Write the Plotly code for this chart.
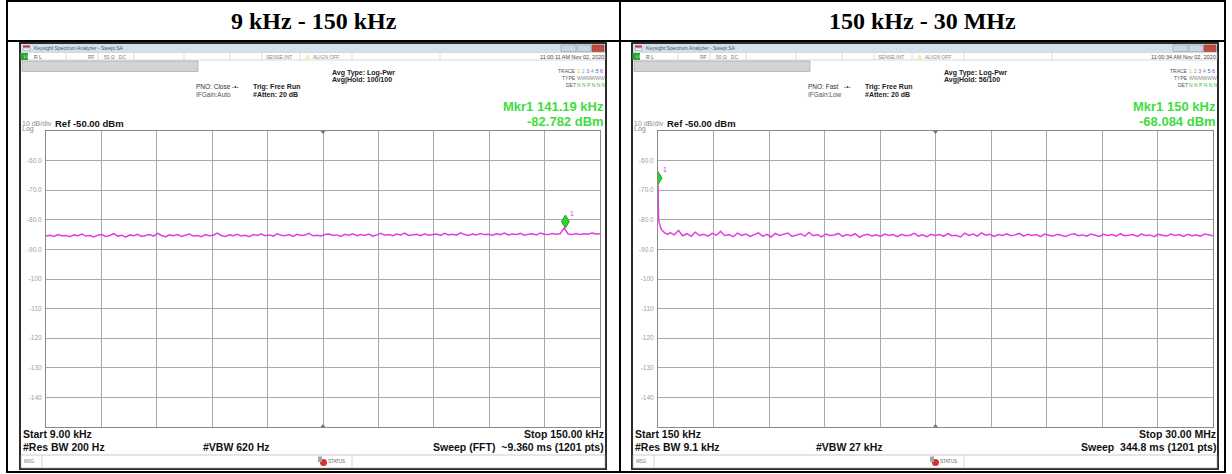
import numpy as np
import plotly.graph_objects as go

# ---------------- data ----------------
titles = ["9 kHz - 150 kHz", "150 kHz - 30 MHz"]

left_start_khz, left_stop_khz = 9.0, 150.0
left_level_dbm = [
    -85.5, -85.2, -85.6, -85.0, -85.4, -85.3, -85.7, -85.1, -85.4, -84.8, -85.5, -85.3, -85.8, -85.2,
    -85.0, -85.6, -85.3, -84.7, -85.5, -85.2, -85.9, -85.1, -85.4, -84.9, -85.6, -85.3, -85.0, -85.5,
    -84.6, -85.3, -85.7, -85.1, -85.4, -85.0, -85.6, -85.2, -84.8, -85.5, -85.3, -85.7, -85.0, -85.4,
    -85.2, -84.5, -85.3, -85.6, -85.1, -85.4, -84.9, -85.5, -85.2, -85.7, -85.0, -85.3, -84.8, -85.4,
    -85.1, -85.5, -84.7, -85.2, -85.4, -85.0, -85.6, -84.9, -85.3, -85.1, -84.6, -85.4, -85.2, -85.5,
    -85.0, -84.8, -85.3, -85.1, -85.6, -84.9, -85.2, -84.7, -85.4, -85.0, -85.3, -84.8, -85.5, -85.1,
    -84.6, -85.2, -85.0, -85.4, -84.8, -85.1, -84.5, -85.3, -85.0, -84.9, -85.4, -84.7, -85.2, -85.0,
    -84.8, -85.3, -84.6, -85.1, -84.9, -85.2, -84.4, -85.0, -85.3, -84.8, -85.1, -84.6, -85.0, -84.9,
    -85.2, -84.7, -85.0, -84.5, -85.1, -84.8, -85.0, -84.6, -85.2, -84.9, -84.7, -85.1, -84.5, -84.9,
    -85.0, -84.6, -84.9, -84.7, -82.8, -84.8, -85.0, -84.6, -85.0, -84.7, -84.9, -84.5, -84.8, -84.7,
]
left_marker_khz, left_marker_dbm = 141.19, -82.782

right_start_mhz, right_stop_mhz = 0.15, 30.0
right_head_mhz = [0.15, 0.16, 0.18, 0.21, 0.25, 0.30, 0.37, 0.45, 0.55, 0.67]
right_head_dbm = [-68.1, -75.0, -79.3, -80.8, -81.9, -82.8, -83.6, -84.1, -84.6, -84.9]
right_body_start_mhz = 0.8
right_body_dbm = [
    -84.3, -85.1, -83.6, -85.4, -84.7, -85.6, -84.2, -85.3, -84.9, -85.5,
    -84.6, -85.2, -83.9, -85.4, -85.0, -85.7, -84.5, -85.3, -84.8, -85.6,
    -85.1, -84.4, -85.5, -84.9, -85.8, -84.6, -85.3, -85.0, -84.5, -85.6,
    -85.2, -84.7, -85.5, -84.3, -85.4, -85.0, -85.8, -84.8, -85.3, -85.1,
    -84.6, -85.6, -85.0, -85.4, -84.7, -85.9, -85.2, -84.9, -85.5, -85.1,
    -85.6, -84.8, -85.3, -85.0, -85.7, -84.9, -85.4, -85.2, -84.6, -85.5,
    -85.1, -85.7, -84.9, -85.3, -85.0, -85.6, -84.7, -85.4, -85.2, -85.8,
    -84.5, -85.3, -84.8, -85.5, -84.4, -85.2, -84.9, -85.6, -85.0, -85.3,
    -84.7, -85.4, -85.1, -84.6, -85.5, -84.9, -85.3, -85.0, -85.7, -84.8,
    -85.2, -85.5, -84.9, -85.3, -85.6, -85.0, -84.7, -85.4, -85.1, -85.5,
    -84.8, -85.2, -85.6, -84.9, -85.3, -85.0, -85.5, -84.7, -85.4, -85.2,
    -85.0, -85.6, -84.8, -85.3, -85.1, -85.7, -84.9, -85.2, -85.5, -84.8,
    -85.3, -85.0, -85.6, -84.9, -85.4, -85.1, -85.5, -84.8, -85.2, -85.4,
]
right_marker_mhz, right_marker_dbm = 0.15, -68.084

ref_level, db_per_div, n_div = -50.0, 10.0, 10
y_tick_vals = [-60, -70, -80, -90, -100, -110, -120, -130, -140]
y_tick_text = ["-60.0", "-70.0", "-80.0", "-90.0", "-100", "-110", "-120", "-130", "-140"]

panel_info = [
    dict(time="11:00:11 AM Nov 02, 2020", pno="PNO: Close", ifgain="IFGain:Auto", avghold="Avg|Hold: 100/100",
         mkr="Mkr1 141.19 kHz", mkrval="-82.782 dBm", start="Start 9.00 kHz", rbw="#Res BW 200 Hz",
         vbw="#VBW 620 Hz", stop="Stop 150.00 kHz", sweep="Sweep (FFT)  ~9.360 ms (1201 pts)"),
    dict(time="11:00:34 AM Nov 02, 2020", pno="PNO: Fast", ifgain="IFGain:Low", avghold="Avg|Hold: 56/100",
         mkr="Mkr1 150 kHz", mkrval="-68.084 dBm", start="Start 150 kHz", rbw="#Res BW 9.1 kHz",
         vbw="#VBW 27 kHz", stop="Stop 30.00 MHz", sweep="Sweep  344.8 ms (1201 pts)"),
]

# ---------------- layout helpers ----------------
W, H = 1232, 474
SANS = "Liberation Sans, Arial, sans-serif"
SERIF = "Liberation Serif, Times New Roman, serif"
TRACE_COLOR = "#e43be4"
MKR_GREEN = "#3fdc3f"

def X(p):
    return p / W

def Y(p):
    return 1 - p / H

shapes, annotations = [], []

def rect(x0, y0, x1, y1, fill, line=None, lw=0, layer="below"):
    shapes.append(dict(type="rect", xref="paper", yref="paper", x0=X(x0), x1=X(x1), y0=Y(y1), y1=Y(y0),
                       fillcolor=fill, line=dict(color=line or fill, width=lw), layer=layer))

def hline(x0, x1, y, color, lw, layer="above"):
    shapes.append(dict(type="line", xref="paper", yref="paper", x0=X(x0), x1=X(x1), y0=Y(y), y1=Y(y),
                       line=dict(color=color, width=lw), layer=layer))

def vline(x, y0, y1, color, lw, layer="above"):
    shapes.append(dict(type="line", xref="paper", yref="paper", x0=X(x), x1=X(x), y0=Y(y0), y1=Y(y1),
                       line=dict(color=color, width=lw), layer=layer))

def text(x, y, s, size, color="#000", bold=False, anchor="left", family=SANS):
    if bold:
        s = "<b>" + s + "</b>"
    annotations.append(dict(xref="paper", yref="paper", x=X(x), y=Y(y), text=s, showarrow=False,
                            xanchor=anchor, yanchor="middle", borderpad=0, borderwidth=0,
                            font=dict(size=size, color=color, family=family)))

def tri(x, y, down, color="#777"):
    d = 3 if down else -3
    path = "M{},{} L{},{} L{},{} Z".format(X(x - 2.5), Y(y), X(x + 2.5), Y(y), X(x), Y(y + d))
    shapes.append(dict(type="path", xref="paper", yref="paper", path=path, fillcolor=color,
                       line=dict(color=color, width=0), layer="above"))

# ---------------- table ----------------
TL, TR, TT, TB, TMID, THDR = 7, 1225, 1, 472, 620, 41
rect(TL, TT, TR, TB, "white", "black", 2)

# ---------------- windows ----------------
offsets = [0, 612]
plot_x = [(46, 600), (658, 1213)]
GT, GB = 131, 427

for k, o in enumerate(offsets):
    info = panel_info[k]
    wl, wr = o + 20, o + 606
    rect(wl, 43, wr, 469, "white", "#2b2b2b", 2)
    # title bar
    rect(wl + 1, 44, wr - 1, 52, "#d2dfec")
    rect(o + 23, 45.5, o + 30, 47.5, "#c4302b")
    rect(o + 23, 48, o + 30, 50.5, "#f4f4f4", "#999", 0.5)
    text(o + 34, 48.2, "Keysight Spectrum Analyzer - Swept SA", 5, "#4a5a70")
    rect(o + 561, 45, o + 576, 51.5, "#c9d6e4", "#8d9db2", 0.6)
    rect(o + 577, 45, o + 591, 51.5, "#c9d6e4", "#8d9db2", 0.6)
    rect(o + 592, 45, o + 604, 51.5, "#c94a3c", "#8d3a30", 0.6)
    # status row
    rect(wl + 1, 52.5, wr - 1, 60, "white", "#bdbdbd", 0.6)
    rect(wl + 1, 53, o + 28, 60, "#2fa52f")
    text(o + 23.5, 56.5, "LXI", 4, "#dfffdf")
    for sx in [66, 98, 134, 184, 230, 262, 300, 352, 440]:
        vline(o + sx, 53, 60, "#c8c8c8", 0.6, "below")
    text(o + 34, 56.5, "R L", 5, "#555")
    text(o + 88, 56.5, "RF", 5, "#777")
    text(o + 104, 56.5, "50 \u03a9   DC", 5, "#777")
    text(o + 266, 56.5, "SENSE:INT", 5, "#888")
    text(o + 305, 56.5, "\u26a0", 6, "#d9b000")
    text(o + 313, 56.5, "ALIGN OFF", 5, "#888")
    text(o + 604, 56.5, info["time"], 5.5, "#444", anchor="right")
    # gray bar
    rect(o + 22, 61, o + 198, 71.5, "#d4d4d4", "#9c9c9c", 0.6)
    # info text
    text(o + 196, 87, info["pno"], 6.5, "#333")
    text(o + 232, 87, "-\u2022-", 6.5, "#333")
    text(o + 196, 94, info["ifgain"], 6.5, "#555")
    text(o + 253, 87, "Trig: Free Run", 7, "#222", bold=True)
    text(o + 253, 94, "#Atten: 20 dB", 7, "#222", bold=True)
    text(o + 332, 73.5, "Avg Type: Log-Pwr", 7, "#222", bold=True)
    text(o + 332, 80.5, info["avghold"], 7, "#222", bold=True)
    text(o + 576, 70.5, "TRACE", 5, "#555", anchor="right")
    text(o + 576, 77.5, "TYPE", 5, "#555", anchor="right")
    text(o + 576, 84.5, "DET", 5, "#555", anchor="right")
    text(o + 577, 70.5, "<span style='color:#c9c400'>1</span> <span style='color:#28c8d8'>2</span> "
         "<span style='color:#d838d8'>3</span> <span style='color:#3ac83a'>4</span> "
         "<span style='color:#4060e0'>5</span> <span style='color:#a040c0'>6</span>", 5.5, "#555")
    text(o + 577, 77.5, "WWMWWW", 5, "#8a8a8a")
    text(o + 577, 84.5, "N N P N N N", 5, "#3ab83a")
    text(o + 604, 106.5, info["mkr"], 13, MKR_GREEN, bold=True, anchor="right")
    text(o + 604, 121, info["mkrval"], 13, MKR_GREEN, bold=True, anchor="right")
    text(o + 22, 123.5, "10 dB/div", 7, "#8a8a8a")
    text(o + 22, 129, "Log", 7, "#8a8a8a")
    text(o + 55, 123, "Ref -50.00 dBm", 9.5, "#111", bold=True)
    # bottom
    text(o + 23, 434, info["start"], 10.5, "#111", bold=True)
    text(o + 23, 447, info["rbw"], 10.5, "#111", bold=True)
    text(o + 237, 447, info["vbw"], 10.5, "#111", bold=True, anchor="center")
    text(o + 604, 434, info["stop"], 10.5, "#111", bold=True, anchor="right")
    text(o + 604, 447, info["sweep"], 10.5, "#111", bold=True, anchor="right")
    rect(wl + 1, 455, wr - 1, 468, "white", "#a8a8a8", 0.6)
    vline(o + 42, 455, 468, "#bdbdbd", 0.6, "below")
    vline(o + 352, 455, 468, "#bdbdbd", 0.6, "below")
    text(o + 24, 461.5, "MSG", 4.5, "#777")
    shapes.append(dict(type="circle", xref="paper", yref="paper", x0=X(o + 320), x1=X(o + 327),
                       y0=Y(466), y1=Y(459), fillcolor="#d83030", line=dict(color="#d83030", width=0),
                       layer="above"))
    rect(o + 318, 456.5, o + 322, 462, "#9aa", layer="above")
    text(o + 328, 461.5, "STATUS", 4.5, "#666")
    # graticule center markers
    cx = (plot_x[k][0] + plot_x[k][1]) / 2
    tri(cx, GT, True)
    tri(cx, GB, False)

# table lines on top
hline(TL, TR, THDR, "black", 2)
vline(TMID, TT, TB, "black", 2)
text((TL + TMID) / 2, 21, titles[0], 24, "#000", bold=True, anchor="center", family=SERIF)
text((TMID + TR) / 2, 21, titles[1], 24, "#000", bold=True, anchor="center", family=SERIF)

# ---------------- traces ----------------
left_freq = np.linspace(left_start_khz, left_stop_khz, len(left_level_dbm))
right_freq = np.concatenate([right_head_mhz,
                             np.linspace(right_body_start_mhz, right_stop_mhz, len(right_body_dbm))])
right_level = list(right_head_dbm) + list(right_body_dbm)

fig = go.Figure()
fig.add_trace(go.Scatter(x=left_freq, y=left_level_dbm, mode="lines", xaxis="x", yaxis="y",
                         line=dict(color=TRACE_COLOR, width=1.5), showlegend=False, hoverinfo="skip"))
fig.add_trace(go.Scatter(x=right_freq, y=right_level, mode="lines", xaxis="x2", yaxis="y2",
                         line=dict(color=TRACE_COLOR, width=1.5), showlegend=False, hoverinfo="skip"))

diamond = "M0,0 L4,6.5 L0,13 L-4,6.5 Z"
for xr, yr, mx, my in [("x", "y", left_marker_khz, left_marker_dbm),
                       ("x2", "y2", right_marker_mhz, right_marker_dbm)]:
    shapes.append(dict(type="path", xref=xr, yref=yr, xsizemode="pixel", ysizemode="pixel",
                       xanchor=mx, yanchor=my, path=diamond, fillcolor="#2bd62b",
                       line=dict(color="#138a13", width=0.8), layer="above"))
    annotations.append(dict(xref=xr, yref=yr, x=mx, y=my, text="1", showarrow=False, xshift=7, yshift=15,
                            font=dict(size=7, color="#d838d8", family=SANS)))

def xaxis_cfg(k, start, stop):
    x0, x1 = plot_x[k]
    return dict(domain=[X(x0), X(x1)], range=[start, stop],
                tickvals=[start + i * (stop - start) / n_div for i in range(1, n_div)],
                showticklabels=False, ticks="", showgrid=True, gridcolor="#a9a9a9", gridwidth=1,
                zeroline=False, showline=True, mirror=True, linecolor="#8a8a8a", linewidth=1)

def yaxis_cfg(anchor):
    return dict(domain=[Y(GB), Y(GT)], range=[ref_level - n_div * db_per_div, ref_level], anchor=anchor,
                tickvals=y_tick_vals, ticktext=y_tick_text, ticks="", showgrid=True, gridcolor="#a9a9a9",
                gridwidth=1, zeroline=False, showline=True, mirror=True, linecolor="#8a8a8a", linewidth=1,
                tickfont=dict(size=6.5, color="#a0a0a0", family=SANS), ticklabelstandoff=2)

fig.update_layout(
    width=W, height=H, margin=dict(l=0, r=0, t=0, b=0),
    paper_bgcolor="white", plot_bgcolor="white",
    xaxis=xaxis_cfg(0, left_start_khz, left_stop_khz) | dict(anchor="y"),
    yaxis=yaxis_cfg("x"),
    xaxis2=xaxis_cfg(1, right_start_mhz, right_stop_mhz) | dict(anchor="y2"),
    yaxis2=yaxis_cfg("x2"),
    shapes=shapes, annotations=annotations, showlegend=False,
)
fig.write_html("out.html", config={"displayModeBar": False},
               post_script="document.body.style.margin='0';document.body.style.overflow='hidden';")
